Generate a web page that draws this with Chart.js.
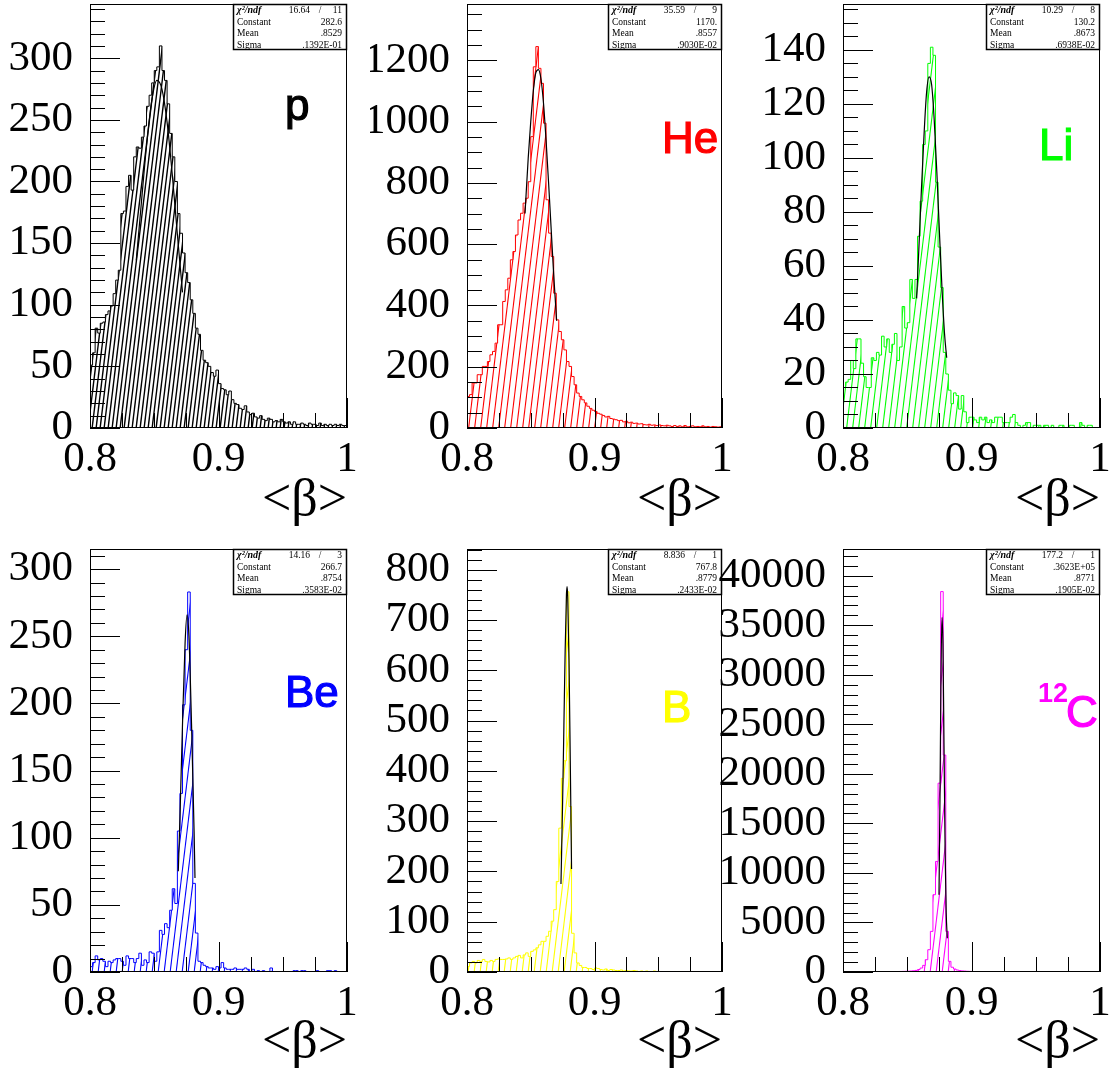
<!DOCTYPE html>
<html>
<head>
<meta charset="utf-8">
<title>beta per species</title>
<script src="https://cdn.jsdelivr.net/npm/chart.js@4.4.0/dist/chart.umd.min.js"></script>
<style>
  body { margin: 0; background: #fff; }
  #wrap { position: relative; width: 1110px; height: 1080px; overflow: hidden; background: #fff; }
  #wrap canvas { position: absolute; }
</style>
</head>
<body>
<div id="wrap"></div>
<script>
// 100 bins of <beta> from 0.8 to 1.0
var binLow = 0.8, binWidth = 0.002;

var pCounts = [51,61,81,77,85,86,92,95,99,109,120,128,174,176,196,205,193,220,228,227,
  236,245,261,270,280,290,293,310,290,282,263,239,220,200,174,158,142,126,118,104,
  93,81,76,63,55,53,50,45,42,47,36,32,31,27,30,23,20,19,16,15,
  18,13,11,12,9,8,10,7,6,8,7,5,6,5,7,5,4,5,3,5,
  3,3,4,3,2,4,3,3,2,4,2,3,2,3,2,3,2,3,2,2];
var heCounts = [103,109,147,147,174,174,201,201,217,239,250,277,337,337,413,451,489,549,576,630,
  679,701,734,750,804,951,1179,1245,1174,1125,995,745,636,560,440,353,315,288,255,217,
  201,168,141,114,103,92,82,71,64,58,54,48,45,41,36,38,31,29,27,24,
  25,20,22,17,19,15,16,13,14,11,10,12,9,10,8,10,8,7,9,7,
  5,8,5,7,4,8,4,5,7,4,5,4,7,4,5,3,5,4,3,4];
var liCounts = [15,17,18,25,22,33,33,24,19,15,15,26,25,28,27,34,30,33,28,31,
  35,25,30,45,37,39,55,48,55,71,84,105,110,135,141,138,91,67,52,28,
  20,14,9,13,12,7,12,6,2,4,4,3,2,4,3,4,2,3,2,4,
  4,4,2,2,2,4,5,2,1,0,1,2,2,0,1,1,1,0,1,1,
  0,1,0,0,1,1,0,0,1,1,0,0,2,1,0,1,1,0,0,0];
var beCounts = [4,7,12,9,10,8,4,8,7,9,10,10,8,5,12,10,10,7,10,14,
  5,9,7,15,14,8,15,31,28,36,33,46,62,51,105,133,199,240,283,180,
  66,29,8,7,5,4,3,3,2,4,3,7,3,2,2,2,3,2,2,2,
  3,2,0,2,0,1,0,1,0,0,3,0,0,0,0,0,0,0,0,1,
  1,0,1,1,0,0,0,0,1,0,0,0,1,1,0,1,0,0,0,0];
var bCounts = [11,18,21,18,23,21,25,21,20,23,21,25,26,25,25,26,28,25,28,31,
  33,28,34,38,31,41,44,48,54,61,61,71,81,101,124,180,286,385,420,756,
  329,77,38,18,13,9,9,7,7,5,8,7,5,4,6,3,5,4,3,3,
  4,2,3,2,2,3,2,1,2,1,2,1,1,2,1,1,1,0,1,1,
  0,1,0,1,1,0,0,1,0,1,0,0,1,0,0,0,1,0,0,0];
var cCounts = [0,0,0,0,0,0,0,0,0,0,0,0,0,0,20,25,30,30,35,40,
  45,50,55,60,70,80,95,120,160,250,400,670,1240,2250,4100,7800,11160,19060,38400,21900,
  4100,1075,480,300,200,140,110,90,70,60,50,45,40,35,30,25,0,0,0,0,
  0,0,0,0,0,0,0,0,0,0,0,0,0,0,0,0,0,0,0,0,
  0,0,0,0,0,0,0,0,0,0,0,0,0,0,0,0,0,0,0,0];

// gaussian fit curves
var pFitX = [0.836,0.840,0.844,0.848,0.852,0.856,0.860,0.864,0.868,0.872];
var pFitY = [136,183,229,265,282,275,248,206,157,110];
var heFitX = [0.8455,0.848,0.850,0.852,0.854,0.856,0.858,0.860,0.862,0.864,0.866,0.868,0.8703];
var heFitY = [700,880,1000,1100,1160,1170,1140,1060,940,800,650,500,350];
var liFitX = [0.8573,0.859,0.861,0.863,0.865,0.867,0.869,0.871,0.873,0.875,0.877,0.879,0.8807];
var liFitY = [48,66,88,108,124,130,127,114,95,73,52,35,26];
var beFitX = [0.8687,0.870,0.872,0.874,0.8755,0.877,0.879,0.881,0.8817];
var beFitY = [75,115,185,245,266,250,185,105,70];
var bFitX = [0.8737,0.875,0.876,0.877,0.878,0.8785,0.879,0.880,0.881,0.882];
var bFitY = [175,340,490,640,750,766,745,620,420,205];
var cFitX = [0.8747,0.8755,0.8762,0.8770,0.8778,0.8786,0.8795,0.8803,0.8812];
var cFitY = [7800,18000,29000,35800,33000,23000,12000,6000,3400];

// stats boxes
var statChi2 = ['16.64','35.59','10.29','14.16','8.836','177.2'];
var statNdf = ['11','9','8','3','1','1'];
var statConst = ['282.6','1170.','130.2','266.7','767.8','.3623E+05'];
var statMean = ['.8529','.8557','.8673','.8754','.8779','.8771'];
var statSigma = ['.1392E-01','.9030E-02','.6938E-02','.3583E-02','.2433E-02','.1905E-02'];

var species = ['p','He','Li','Be','B','C'];
var yMax = [344, 1384, 157, 315, 841, 42700];
var yStep = [50, 200, 20, 50, 100, 5000];
var yMinor = [10, 50, 5, 10, 20, 1000];
var xMajor = [0.8, 0.9, 1.0];
var xMinorStep = 0.025;

var counts = [pCounts, heCounts, liCounts, beCounts, bCounts, cCounts];
var fitX = [pFitX, heFitX, liFitX, beFitX, bFitX, cFitX];
var fitY = [pFitY, heFitY, liFitY, beFitY, bFitY, cFitY];
var colors = ['#000000','#ff0000','#00ff00','#0000ff','#ffff00','#ff00ff'];
var hatchPeriod = [4, 6, 6, 6, 6, 6];
var hatchWidth = [1.4, 1.1, 1.1, 1.1, 1.1, 1.1];

// pad geometry (canvas box, plot area inside it)
var cols = [{left: 0, w: 370, yW: 90, rPad: 23}, {left: 370, w: 370, yW: 97, rPad: 18}, {left: 700, w: 410, yW: 143, rPad: 10}];
var rows = [{top: 0, h: 540, tPad: 4, xH: 112, titlePad: 7}, {top: 540, h: 540, tPad: 9, xH: 108, titlePad: 5}];
var labelOff = [[195,116],[195,149],[196,156],[195,158],[195,173],[195,153]];

var serif = '"Liberation Serif", "Times New Roman", serif';
var sans = '"Liberation Sans", Arial, sans-serif';
Chart.defaults.font.family = serif;
Chart.defaults.color = '#000';

function makeHatch(color, period, lw) {
  var h = Math.round(period / 0.12);
  var c = document.createElement('canvas');
  c.width = period; c.height = h;
  var g = c.getContext('2d');
  g.strokeStyle = color; g.lineWidth = lw;
  for (var k = -1; k <= 1; k++) {
    g.beginPath(); g.moveTo(k * period, h); g.lineTo(k * period + period, 0); g.stroke();
  }
  return g.createPattern(c, 'repeat');
}

function drawLabel(ctx, txt, x, y) {
  ctx.fillText(txt, x, y);
  ctx.strokeText(txt, x, y);
}

var rootStyle = {
  id: 'rootStyle',
  afterDraw: function(chart) {
    var i = chart.options.plugins.rootStyle.idx;
    var ctx = chart.ctx, a = chart.chartArea;
    var xs = chart.scales.x, ys = chart.scales.y;
    ctx.save();
    ctx.strokeStyle = '#000'; ctx.lineWidth = 1;
    // ticks, drawn inside the frame
    ctx.beginPath();
    for (var v = 0; v <= yMax[i] + 1e-9; v += yMinor[i]) {
      var py = Math.round(ys.getPixelForValue(v)) + 0.5;
      var major = Math.abs(v / yStep[i] - Math.round(v / yStep[i])) < 1e-6;
      ctx.moveTo(a.left, py); ctx.lineTo(a.left + (major ? 30 : 15), py);
    }
    for (var k = 0; k <= 8; k++) {
      var xv = binLow + k * xMinorStep;
      var px = Math.round(xs.getPixelForValue(xv)) + 0.5;
      var isMaj = xMajor.some(function(m) { return Math.abs(m - xv) < 1e-6; });
      ctx.moveTo(px, a.bottom); ctx.lineTo(px, a.bottom - (isMaj ? 30 : 15));
    }
    ctx.stroke();
    // frame
    ctx.strokeRect(Math.round(a.left) + 0.5, Math.round(a.top) + 0.5, Math.round(a.right - a.left) - 1, Math.round(a.bottom - a.top) - 1);

    // stats box
    var bw = 114, bh = 46, bx = a.right - bw, by = a.top;
    ctx.fillStyle = '#fff';
    ctx.fillRect(bx, by, bw, bh);
    ctx.lineWidth = 1.5;
    ctx.strokeRect(bx + 0.5, by + 0.5, bw - 1, bh - 1);
    ctx.fillStyle = '#000';
    ctx.textBaseline = 'middle';
    var rh = bh / 4;
    ctx.font = 'italic bold 10px ' + serif;
    ctx.textAlign = 'left';
    ctx.fillText('\u03c7\u00b2/ndf', bx + 4, by + rh * 0.5 + 1);
    ctx.font = '9.5px ' + serif;
    ctx.textAlign = 'right';
    ctx.fillText(statChi2[i], bx + bw - 37, by + rh * 0.5 + 1);
    ctx.textAlign = 'center';
    ctx.fillText('/', bx + bw - 27, by + rh * 0.5 + 1);
    ctx.textAlign = 'right';
    ctx.fillText(statNdf[i], bx + bw - 5, by + rh * 0.5 + 1);
    var names = ['Constant', 'Mean', 'Sigma'];
    var vals = [statConst[i], statMean[i], statSigma[i]];
    for (var r = 0; r < 3; r++) {
      var cy = by + rh * (r + 1.5) + 1;
      ctx.textAlign = 'left';
      ctx.fillText(names[r], bx + 4, cy);
      ctx.textAlign = 'right';
      ctx.fillText(vals[r], bx + bw - 5, cy);
    }

    // species label
    var lx = a.left + labelOff[i][0], ly = a.top + labelOff[i][1];
    ctx.fillStyle = colors[i];
    ctx.strokeStyle = colors[i];
    ctx.lineWidth = 1.2;
    ctx.textAlign = 'left';
    ctx.textBaseline = 'alphabetic';
    if (species[i] === 'C') {
      ctx.font = 'bold 27px ' + sans;
      ctx.fillText('12', lx, ly);
      ctx.font = '44px ' + sans;
      drawLabel(ctx, 'C', lx + 28, ly + 25);
    } else {
      ctx.font = '44px ' + sans;
      drawLabel(ctx, species[i], lx, ly);
    }
    ctx.restore();
  }
};

var wrap = document.getElementById('wrap');
for (var i = 0; i < 6; i++) {
  (function(i) {
    var col = cols[i % 3], row = rows[Math.floor(i / 3)];
    var cv = document.createElement('canvas');
    cv.width = col.w; cv.height = row.h;
    cv.style.left = col.left + 'px'; cv.style.top = row.top + 'px';
    wrap.appendChild(cv);

    var hist = counts[i].map(function(c, k) { return {x: binLow + k * binWidth, y: c}; });
    hist.push({x: binLow + counts[i].length * binWidth, y: counts[i][counts[i].length - 1]});
    var fit = fitX[i].map(function(x, k) { return {x: x, y: fitY[i][k]}; });

    new Chart(cv, {
      type: 'line',
      data: {
        datasets: [
          {data: fit, borderColor: '#000', borderWidth: 1.2, pointRadius: 0, fill: false, cubicInterpolationMode: 'monotone'},
          {data: hist, borderColor: colors[i], borderWidth: 1, pointRadius: 0, stepped: 'before',
           fill: 'origin', backgroundColor: makeHatch(colors[i], hatchPeriod[i], hatchWidth[i])}
        ]
      },
      options: {
        responsive: false,
        animation: false,
        events: [],
        layout: {padding: {left: 0, top: row.tPad, right: col.rPad, bottom: 0}},
        plugins: {legend: {display: false}, tooltip: {enabled: false}, rootStyle: {idx: i}},
        scales: {
          x: {
            type: 'linear', min: 0.8, max: 1.0,
            grid: {display: false, drawTicks: false}, border: {display: false},
            ticks: {stepSize: 0.1, autoSkip: false, maxRotation: 0, padding: 6,
                    font: {size: 43}, color: '#000',
                    callback: function(v) { return String(+v.toFixed(2)); }},
            afterBuildTicks: function(s) { s.ticks = xMajor.map(function(v) { return {value: v}; }); },
            title: {display: true, text: '<\u03b2>', align: 'end', color: '#000',
                    font: {size: 52}, padding: {top: 0, bottom: row.titlePad}},
            afterFit: function(s) { s.height = row.xH; s.paddingLeft = 0; s.paddingRight = 0; }
          },
          y: {
            type: 'linear', min: 0, max: yMax[i],
            grid: {display: false, drawTicks: false}, border: {display: false},
            ticks: {autoSkip: false, padding: 17,
                    font: {size: 43}, color: '#000',
                    callback: function(v) { return String(v); }},
            afterBuildTicks: function(s) {
              var t = [];
              for (var v = 0; v <= yMax[i]; v += yStep[i]) t.push({value: v});
              s.ticks = t;
            },
            afterFit: function(s) { s.width = col.yW; s.paddingTop = 0; s.paddingBottom = 0; }
          }
        }
      },
      plugins: [rootStyle]
    });
  })(i);
}
</script>
</body>
</html>
